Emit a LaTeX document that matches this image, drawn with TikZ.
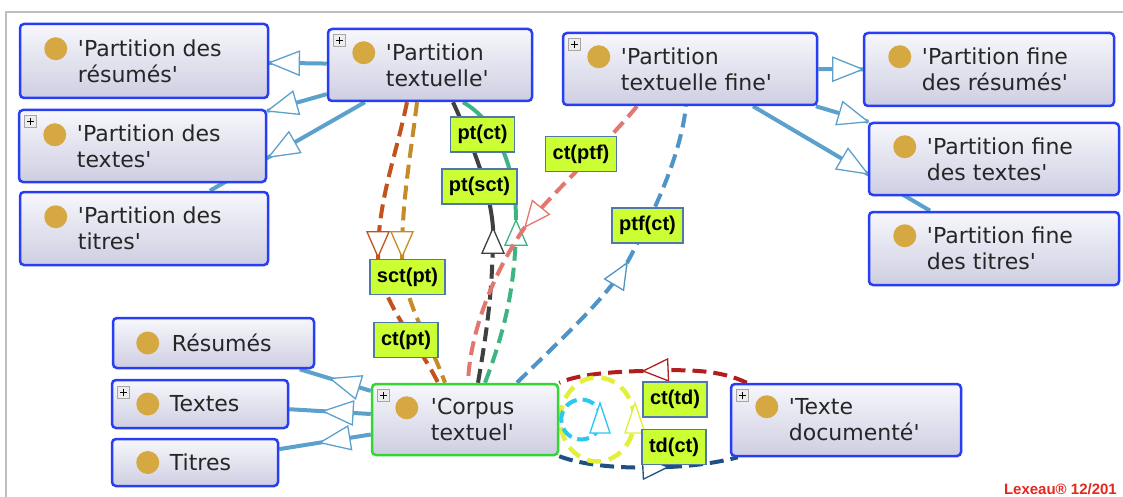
\documentclass[tikz,border=0pt]{standalone}
\usepackage{fontspec}
\newfontfamily\boxfont{DejaVu Sans}[Ligatures=TeXOff]
\newfontfamily\lblfont{Liberation Sans}[Ligatures=TeXOff]
\usetikzlibrary{decorations.markings}
\pgfdeclarelayer{bgfill}
\pgfdeclarelayer{edges}
\pgfsetlayers{bgfill,edges,main}
\definecolor{boxblue}{RGB}{40,62,245}
\definecolor{boxgreen}{RGB}{50,215,50}
\definecolor{boxtop}{RGB}{247,247,252}
\definecolor{boxbot}{RGB}{206,206,226}
\definecolor{dotgold}{RGB}{214,168,66}
\definecolor{ink}{RGB}{38,38,38}
\definecolor{isa}{RGB}{92,160,204}
\definecolor{lblfill}{RGB}{204,255,51}
\definecolor{lblline}{RGB}{80,120,170}
\definecolor{cOrange}{RGB}{196,82,30}
\definecolor{cGold}{RGB}{196,140,40}
\definecolor{cBlack}{RGB}{64,64,64}
\definecolor{cGreen}{RGB}{62,180,130}
\definecolor{cSalmon}{RGB}{228,118,112}
\definecolor{cSteel}{RGB}{78,148,200}
\definecolor{cRed}{RGB}{178,30,30}
\definecolor{cNavy}{RGB}{30,80,130}
\definecolor{cYellow}{RGB}{226,240,60}
\definecolor{cCyan}{RGB}{40,200,240}
\definecolor{framegray}{RGB}{190,190,190}
\definecolor{lexred}{RGB}{228,40,30}
\begin{document}
\begin{tikzpicture}[x=1pt, y=-1pt,
  clsbox/.style={draw=boxblue, line width=2.5pt, rounded corners=4pt, top color=boxtop, bottom color=boxbot, inner sep=0pt},
  golddot/.style={circle, fill=dotgold, minimum size=23pt, inner sep=0pt},
  boxtext/.style={anchor=west, align=left, inner sep=0pt, text=ink, font=\boxfont\fontsize{22}{26}\selectfont},
  plusicon/.style={draw=gray!70, fill=gray!15, minimum size=12pt, inner sep=0pt, line width=0.6pt,
    path picture={\draw[black, line width=1pt]
      ([xshift=-3.5pt]path picture bounding box.center) -- ([xshift=3.5pt]path picture bounding box.center)
      ([yshift=-3.5pt]path picture bounding box.center) -- ([yshift=3.5pt]path picture bounding box.center);}},
  relbox/.style={draw=lblline, fill=lblfill, line width=1.5pt, inner xsep=7pt, inner ysep=0pt, minimum height=35pt, text=black, font=\lblfont\bfseries\fontsize{20}{22}\selectfont},
  isaedge/.style={color=isa, line width=4pt},
  dashedge/.style={line width=4pt, dash pattern=on 14pt off 7pt},
  bighead/.style={postaction={decorate}, decoration={markings, mark=at position #1 with {\draw[solid, line width=1.3pt, fill=white] (0pt,0pt) -- (-30pt,12pt) -- (-30pt,-12pt) -- cycle;}}},
  smallhead/.style={postaction={decorate}, decoration={markings, mark=at position #1 with {\draw[solid, line width=1.3pt, fill=white] (0pt,0pt) -- (-25pt,11pt) -- (-25pt,-11pt) -- cycle;}}}
]
\useasboundingbox (0,0) rectangle (1123,497);
\begin{pgfonlayer}{bgfill}
\fill[white] (0,0) rectangle (1123,497);
\draw[framegray, line width=2pt] (1123,12) -- (6,12) -- (6,497);
\end{pgfonlayer}

% ---------- class boxes ----------
\node[clsbox, minimum width=248pt, minimum height=74pt] (pdr) at (144,61) {};
\node[golddot] (pdrD) at ([xshift=37pt,yshift=-26pt]pdr.north west) {};
\node[boxtext] (pdrT) at ([xshift=59pt]pdr.west) {'Partition des\\résumés'};

\node[clsbox, minimum width=247pt, minimum height=72pt] (pdt) at (142.5,146) {};
\node[plusicon] (pdtP) at ([xshift=13pt,yshift=-13pt]pdt.north west) {};
\node[golddot] (pdtD) at ([xshift=37pt,yshift=-26pt]pdt.north west) {};
\node[boxtext] (pdtT) at ([xshift=59pt]pdt.west) {'Partition des\\textes'};

\node[clsbox, minimum width=248pt, minimum height=73pt] (pdti) at (144,228.5) {};
\node[golddot] (pdtiD) at ([xshift=37pt,yshift=-26pt]pdti.north west) {};
\node[boxtext] (pdtiT) at ([xshift=59pt]pdti.west) {'Partition des\\titres'};

\node[clsbox, minimum width=204pt, minimum height=72pt] (pt) at (430,65) {};
\node[plusicon] (ptP) at ([xshift=13pt,yshift=-13pt]pt.north west) {};
\node[golddot] (ptD) at ([xshift=37pt,yshift=-25pt]pt.north west) {};
\node[boxtext] (ptT) at ([xshift=59pt]pt.west) {'Partition\\textuelle'};

\node[clsbox, minimum width=254pt, minimum height=72pt] (ptf) at (690,69) {};
\node[plusicon] (ptfP) at ([xshift=13pt,yshift=-13pt]ptf.north west) {};
\node[golddot] (ptfD) at ([xshift=37pt,yshift=-25pt]ptf.north west) {};
\node[boxtext] (ptfT) at ([xshift=59pt]ptf.west) {'Partition\\textuelle fine'};

\node[clsbox, minimum width=250pt, minimum height=73pt] (pfr) at (989,69.5) {};
\node[golddot] (pfrD) at ([xshift=37pt,yshift=-25pt]pfr.north west) {};
\node[boxtext] (pfrT) at ([xshift=59pt]pfr.west) {'Partition fine\\des résumés'};

\node[clsbox, minimum width=250pt, minimum height=72pt] (pft) at (994,159) {};
\node[golddot] (pftD) at ([xshift=37pt,yshift=-25pt]pft.north west) {};
\node[boxtext] (pftT) at ([xshift=59pt]pft.west) {'Partition fine\\des textes'};

\node[clsbox, minimum width=250pt, minimum height=73pt] (pftt) at (994,248.5) {};
\node[golddot] (pfttD) at ([xshift=37pt,yshift=-25pt]pftt.north west) {};
\node[boxtext] (pfttT) at ([xshift=59pt]pftt.west) {'Partition fine\\des titres'};

\node[clsbox, minimum width=201pt, minimum height=50pt] (res) at (213.5,343) {};
\node[golddot] (resD) at ([xshift=36pt]res.west) {};
\node[boxtext] (resT) at ([xshift=60pt]res.west) {Résumés};

\node[clsbox, minimum width=176pt, minimum height=48pt] (tex) at (200,404) {};
\node[plusicon] (texP) at ([xshift=13pt,yshift=-14pt]tex.north west) {};
\node[golddot] (texD) at ([xshift=37pt]tex.west) {};
\node[boxtext] (texT) at ([xshift=59pt]tex.west) {Textes};

\node[clsbox, minimum width=166pt, minimum height=47pt] (tit) at (195,462.5) {};
\node[golddot] (titD) at ([xshift=37pt]tit.west) {};
\node[boxtext] (titT) at ([xshift=59pt]tit.west) {Titres};

\node[clsbox, draw=boxgreen, minimum width=186pt, minimum height=71pt] (ct) at (465,419.5) {};
\node[plusicon] (ctP) at ([xshift=13pt,yshift=-13pt]ct.north west) {};
\node[golddot] (ctD) at ([xshift=36pt,yshift=-25pt]ct.north west) {};
\node[boxtext] (ctT) at ([xshift=60pt]ct.west) {'Corpus\\textuel'};

\node[clsbox, minimum width=230pt, minimum height=72pt] (td) at (846,420) {};
\node[plusicon] (tdP) at ([xshift=13pt,yshift=-13pt]td.north west) {};
\node[golddot] (tdD) at ([xshift=37pt,yshift=-24pt]td.north west) {};
\node[boxtext] (tdT) at ([xshift=59pt]td.west) {'Texte\\documenté'};

% ---------- relation labels ----------
\node[relbox] (lPtCt) at (482.5,134.5) {pt(ct)};
\node[relbox] (lPtSct) at (479.5,186.5) {pt(sct)};
\node[relbox] (lCtPtf) at (581,154) {ct(ptf)};
\node[relbox] (lPtfCt) at (647.5,225.5) {ptf(ct)};
\node[relbox] (lSctPt) at (407.5,277) {sct(pt)};
\node[relbox] (lCtPt) at (406,340) {ct(pt)};
\node[relbox] (lCtTd) at (675,399.5) {ct(td)};
\node[relbox] (lTdCt) at (674,447) {td(ct)};

\node[anchor=east, inner sep=0pt, text=lexred, font=\lblfont\bfseries\fontsize{15}{17}\selectfont] (lex) at (1117,489) {Lexeau® 12/201};

% ---------- connectors ----------
\begin{pgfonlayer}{edges}
% is-a edges
\draw[isaedge, bighead=0.999] (pt) -- (pdr);
\draw[isaedge, bighead=0.999] (pt) -- (pdt);
\draw[isaedge, bighead=0.62] (pt) -- (pdti);
\draw[isaedge, bighead=0.999] (ptf) -- (pfr);
\draw[isaedge, bighead=0.999] (ptf) -- (pft);
\draw[isaedge, bighead=0.648] (ptf) -- (pftt);
\draw[isaedge, bighead=0.57] (ct) -- (res);
\draw[isaedge, bighead=0.585] (ct) -- (tex);
\draw[isaedge, bighead=0.554] (ct) -- (tit);

% arrow tip points
\coordinate (oTip) at (378,257);
\coordinate (gTip) at (402,257);
\coordinate (kTip) at (493,228);
\coordinate (gnTip) at (516,220);
\coordinate (sTip) at (525,227);
\coordinate (bTip) at (627,263);
\coordinate (rTip) at (643,371);
\coordinate (nTip) at (668,467);
\coordinate (yTip) at (635,403);
\coordinate (cTip) at (600,403);

% ct(pt) and sct(pt)
\draw[cOrange, dashedge, smallhead=0.999] ([xshift=-23pt]pt.south) .. controls (395,160) and (378,200) .. (oTip);
\draw[cOrange, dashedge] (oTip) .. controls (378,300) and (420,345) .. ([xshift=-27pt]ct.north);
\draw[cGold, dashedge, smallhead=0.999] ([xshift=-13pt]pt.south) .. controls (410,160) and (402,200) .. (gTip);
\draw[cGold, dashedge] (gTip) .. controls (402,300) and (432,345) .. ([xshift=-20pt]ct.north);

% pt(sct) and pt(ct)
\draw[cBlack, dashedge, smallhead=0.999] ([xshift=13pt]ct.north) .. controls (487,330) and (493,290) .. (kTip);
\draw[cBlack, line width=4pt] (kTip) .. controls (490,185) and (468,135) .. ([xshift=23pt]pt.south);
\draw[cGreen, dashedge, smallhead=0.999] ([xshift=20pt]ct.north) .. controls (505,330) and (516,285) .. (gnTip);
\draw[cGreen, line width=4pt] (gnTip) .. controls (516,165) and (495,120) .. ([xshift=33pt]pt.south);

% ct(ptf)
\draw[cSalmon, dashedge, smallhead=0.999] ([xshift=-53pt]ptf.south) .. controls (605,145) and (555,190) .. (sTip);
\draw[cSalmon, dashedge] (sTip) .. controls (495,270) and (470,330) .. ([xshift=3pt]ct.north);

% ptf(ct)
\draw[cSteel, dashedge, smallhead=0.999] ([xshift=52pt]ct.north) .. controls (560,340) and (605,300) .. (bTip);
\draw[cSteel, dashedge] (bTip) .. controls (650,220) and (680,160) .. ([xshift=-4pt]ptf.south);

% ct(td) and td(ct)
\draw[cRed, dashedge, smallhead=0.999] ([xshift=17pt]td.north west) .. controls (720,370) and (690,369) .. (rTip);
\draw[cRed, dashedge] (rTip) .. controls (600,372) and (575,376) .. (ct.north east);
\draw[cNavy, dashedge, smallhead=0.999] (ct.south east) .. controls (585,466) and (625,469) .. (nTip);
\draw[cNavy, dashedge] (nTip) .. controls (695,466) and (720,462) .. ([xshift=8pt]td.south west);

% self loops
\draw[cYellow, line width=4.5pt, dash pattern=on 14pt off 8pt] ([xshift=38pt]ct.east) ellipse [x radius=37pt, y radius=42pt];
\draw[cYellow, line width=1.3pt, fill=white] (yTip) -- ++(-10pt,-30pt) -- ++(20pt,0pt) -- cycle;
\draw[cCyan, line width=4pt, dash pattern=on 12pt off 6pt] ([xshift=22pt]ct.east) circle [radius=20pt];
\draw[cCyan, line width=1.3pt, fill=white] (cTip) -- ++(-10pt,-30pt) -- ++(20pt,0pt) -- cycle;
\end{pgfonlayer}
\end{tikzpicture}
\end{document}
